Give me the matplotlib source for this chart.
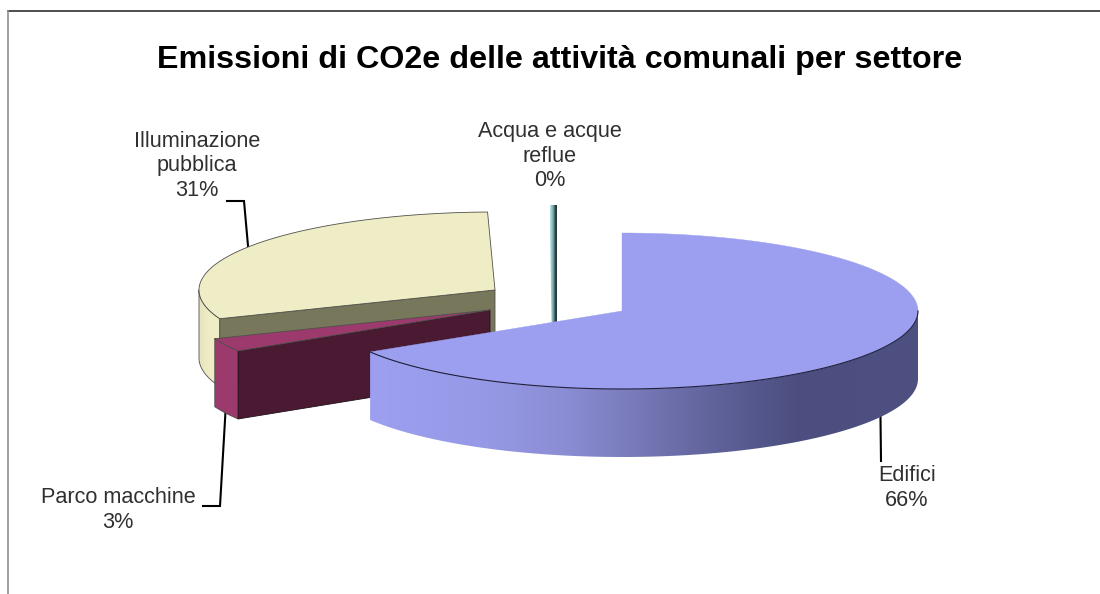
import numpy as np
import matplotlib
matplotlib.use('Agg')
from matplotlib import pyplot as plt
from matplotlib.colors import LinearSegmentedColormap
from matplotlib.patches import Polygon

plt.rcParams['font.family'] = ['Liberation Sans', 'DejaVu Sans']

# Data, going clockwise from 12 o'clock
categories = ['Edifici', 'Parco macchine', 'Illuminazione\npubblica', 'Acqua e acque\nreflue']
shares = [66.2, 2.8, 30.6, 0.4]
title = 'Emissioni di CO2e delle attività comunali per settore'

# Pie geometry in pixels
RX, RY, DEPTH = 296, 78, 68
centers = [(622, 311), (490, 310), (495, 290), (557, 283)]
label_pos = [(907, 488), (118, 510), (197, 166), (550, 156)]

# Slice angles come from the shares
edges = np.concatenate([[0], np.cumsum(shares)]) * 360 / 100


def rim(center, a0, a1, n=80):
    t = np.radians(np.linspace(a0, a1, n))
    return np.column_stack([center[0] + RX * np.sin(t), center[1] - RY * np.cos(t)])


def down(pts):
    return pts + np.array([0, DEPTH])


def gradient(ax, poly, xs, colors, zorder):
    cmap = LinearSegmentedColormap.from_list('g', list(zip(xs, colors)))
    x0, y0 = poly.min(axis=0)
    x1, y1 = poly.max(axis=0)
    im = ax.imshow(np.linspace(0, 1, 256).reshape(1, -1), cmap=cmap, aspect='auto',
                   extent=(x0, x1, y1, y0), zorder=zorder, interpolation='bilinear')
    clip = Polygon(poly, closed=True, transform=ax.transData)
    im.set_clip_path(clip)


def face(ax, poly, color, zorder, edge='#50504a', lw=0.6):
    ax.add_patch(Polygon(poly, closed=True, facecolor=color, edgecolor=edge, linewidth=lw,
                         zorder=zorder, joinstyle='round'))


fig = plt.figure(figsize=(11, 5.94), dpi=100, facecolor='white')
ax = fig.add_axes([0, 0, 1, 1])

# frame of the original chart area
ax.plot([8, 1100], [11, 11], color='#303030', lw=1.2, zorder=1)
ax.plot([8, 8], [11, 594], color='#909090', lw=1.2, zorder=1)

# Illuminazione pubblica
c = centers[2]
a0, a1 = edges[2], edges[3]
r = rim(c, a0, a1)
wall = np.vstack([rim(c, a0, 270), down(rim(c, a0, 270))[::-1]])
gradient(ax, wall, [0, 0.5, 1], ['#e6e4bc', '#efedc5', '#efedc5'], 2)
face(ax, wall, 'none', 2.1)
cut = np.array([c, r[0], down(r[:1])[0], down(np.array([c]))[0]])
face(ax, cut, '#77775c', 3)
face(ax, np.vstack([[c], r]), '#efedc5', 4)

# Acqua e acque reflue
c = centers[3]
a0, a1 = edges[3], edges[4]
r = rim(c, a0, a1, 5)
sliver = np.vstack([r[0], r[-1], down(np.array([c]))[0], [c[0] - 5, c[1] + DEPTH]])
gradient(ax, sliver, [0, 0.4, 0.7, 1], ['#b8e8e8', '#78a8a8', '#24383c', '#24383c'], 5)

# Parco macchine
c = centers[1]
a0, a1 = edges[1], edges[2]
r = rim(c, a0, a1)
face(ax, np.vstack([r, down(r)[::-1]]), '#9c3a6e', 6)
cut = np.array([c, r[0], down(r[:1])[0], down(np.array([c]))[0]])
face(ax, cut, '#4a1a32', 7, edge='#20101a')
face(ax, np.vstack([[c], r]), '#9c3a6e', 8)

# Edifici
c = centers[0]
a0, a1 = edges[0], edges[1]
r = rim(c, 90, a1)
wall = np.vstack([r, down(r)[::-1]])
gradient(ax, wall, [0, 0.2, 0.35, 0.49, 0.64, 0.785, 1],
         ['#9da0f0', '#9699e6', '#8b8ed4', '#7779b8', '#5e6098', '#4b4e7e', '#4d5080'], 9)
top = np.vstack([[c], rim(c, a0, a1, 160)])
face(ax, top, '#9c9fef', 10, edge='#9c9fef', lw=0.3)
ax.plot(r[:, 0], r[:, 1], color='#20203a', lw=0.8, zorder=11)

# Leader lines go to the middle of each slice's rim
mids = (edges[:-1] + edges[1:]) / 2
p = rim(centers[2], mids[2], mids[2], 1)[0]
ax.plot([227, 244, p[0]], [201, 201, p[1]], color='black', lw=1.5, zorder=1.5,
        solid_joinstyle='miter')
p = down(rim(centers[1], mids[1], mids[1], 1))[0]
ax.plot([203, 220, p[0]], [506, 506, p[1]], color='black', lw=1.5, zorder=1.5,
        solid_joinstyle='miter')
p = down(rim(centers[0], mids[0], mids[0], 1))[0]
ax.plot([p[0], 881], [p[1], 461], color='black', lw=1.5, zorder=1.5)

# Text
ax.text(560, 68, title, ha='center', va='baseline', fontsize=23.2, fontweight='bold',
        color='black', zorder=20)
for name, val, pos in zip(categories, shares, label_pos):
    ax.text(pos[0], pos[1], f'{name}\n{val:.0f}%', ha='center', va='center', fontsize=15.6,
            color='#303030', linespacing=1.2, zorder=20)

ax.set_xlim(0, 1100)
ax.set_ylim(594, 0)
ax.axis('off')

fig.savefig('out.png', dpi=100, facecolor='white')
